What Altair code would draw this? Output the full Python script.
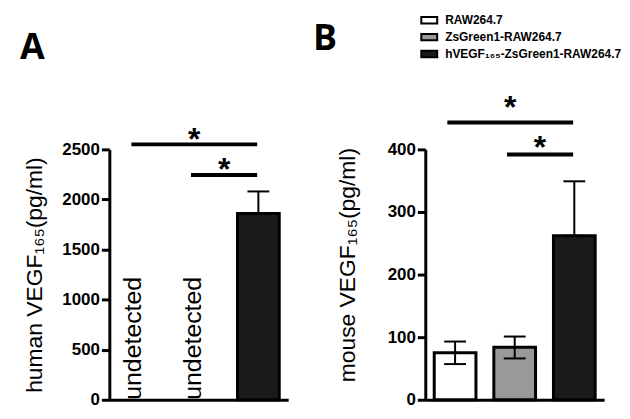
import altair as alt
import pandas as pd

FONT = "Liberation Sans"

groups = ["RAW264.7", "ZsGreen1-RAW264.7", "hVEGF₁₆₅-ZsGreen1-RAW264.7"]
fill_colors = ["#ffffff", "#999999", "#1a1a1a"]

# Panel A: human VEGF165 (pg/ml)
a_mean = [None, None, 1860]
a_err_low = [None, None, 1860]
a_err_high = [None, None, 2080]
a_note = ["undetected", "undetected", ""]
a_ticks = [0, 500, 1000, 1500, 2000, 2500]
a_sig_from = [0, 1]
a_sig_to = [2, 2]
a_sig_level = [2550, 2245]
a_star_level = [2655, 2350]

# Panel B: mouse VEGF165 (pg/ml)
b_mean = [75, 84, 262]
b_err_low = [57, 66, 262]
b_err_high = [93, 101, 349]
b_ticks = [0, 100, 200, 300, 400]
b_sig_from = [0, 1]
b_sig_to = [2, 2]
b_sig_level = [443, 392]
b_star_level = [476, 411]

W, H = 180, 252


def panel(mean, lo, hi, note, ticks, sig_from, sig_to, sig_level, star_level,
          ytitle, title_pad, title_shift, letter, letter_xy, legend):
    df = pd.DataFrame({"group": groups, "idx": [0, 1, 2], "mean": mean,
                       "lo": lo, "hi": hi, "note": note})
    sig = pd.DataFrame({"a": sig_from, "b": sig_to, "level": sig_level,
                        "star": star_level})
    xs = alt.Scale(domain=[0, 3], nice=False, zero=False)
    ys = alt.Scale(domain=[ticks[0], ticks[-1]], nice=False)
    xaxis = alt.Axis(labels=False, ticks=False, grid=False, title=None,
                     domainWidth=3, domainColor="black")
    yaxis = alt.Axis(values=ticks, format="d", grid=False, title=ytitle, domainWidth=3,
                     domainColor="black", tickWidth=3, tickColor="black",
                     tickSize=8, labelPadding=2, labelFont=FONT,
                     labelFontSize=17, labelFontWeight="bold",
                     labelColor="black", titleFont=FONT, titleFontSize=23,
                     titleFontWeight="normal", titleColor="black",
                     titlePadding=title_pad, titleY=H / 2 + title_shift)
    base = alt.Chart(df).transform_calculate(
        x0="datum.idx + 0.15", x1="datum.idx + 0.85", xc="datum.idx + 0.5",
        c0="datum.idx + 0.317", c1="datum.idx + 0.683", zero="0")
    valid = base.transform_filter("isValid(datum.mean)")
    if legend:
        color = alt.Color("group:N", scale=alt.Scale(domain=groups, range=fill_colors),
                          legend=alt.Legend(
                              orient="none", legendX=313, legendY=-139,
                              title=None, symbolType="M-1,-0.4H1V0.4H-1Z",
                              symbolSize=256, symbolStrokeColor="black",
                              symbolStrokeWidth=2, labelFont=FONT,
                              labelFontSize=12, labelFontWeight="bold",
                              labelColor="black", labelLimit=0, rowPadding=0,
                              labelOffset=7))
        bars = valid.mark_bar(stroke="black", strokeWidth=3).encode(
            x=alt.X("x0:Q", scale=xs, axis=xaxis), x2="x1:Q",
            y=alt.Y("mean:Q", scale=ys, axis=yaxis), y2="zero:Q", fill=color)
    else:
        bars = valid.mark_bar(stroke="black", strokeWidth=3, fill="#1a1a1a").encode(
            x=alt.X("x0:Q", scale=xs, axis=xaxis), x2="x1:Q",
            y=alt.Y("mean:Q", scale=ys, axis=yaxis), y2="zero:Q")
    whisk = valid.mark_rule(strokeWidth=2, color="black").encode(
        x="xc:Q", y="lo:Q", y2="hi:Q")
    cap_hi = valid.mark_rule(strokeWidth=2, color="black").encode(
        x="c0:Q", x2="c1:Q", y="hi:Q")
    cap_lo = valid.mark_rule(strokeWidth=2, color="black").encode(
        x="c0:Q", x2="c1:Q", y="lo:Q")
    notes = base.mark_text(angle=270, align="left", baseline="middle", dy=-6,
                           font=FONT, fontSize=25, color="black").encode(
        x="xc:Q", y="zero:Q", text="note:N")
    sbase = alt.Chart(sig).transform_calculate(
        xa="datum.a + 0.37", xb="datum.b + 0.48",
        xm="(datum.a + 0.37 + datum.b + 0.48) / 2")
    sig_rules = sbase.mark_rule(strokeWidth=4, color="black").encode(
        x="xa:Q", x2="xb:Q", y="level:Q")
    stars = sbase.mark_text(text="*", font=FONT, fontSize=32, fontWeight="bold",
                            baseline="alphabetic", dy=16, color="black").encode(
        x="xm:Q", y="star:Q")
    lab = alt.Chart(pd.DataFrame({"t": [letter]})).mark_text(
        align="left", baseline="alphabetic", font="Open Sans", fontSize=36,
        fontWeight="bold", color="black").encode(
        text="t:N", x=alt.value(letter_xy[0]), y=alt.value(letter_xy[1]))
    return alt.layer(bars, whisk, cap_hi, cap_lo, notes, sig_rules, stars, lab).properties(
        width=W, height=H)


pa = panel(a_mean, a_err_low, a_err_high, a_note, a_ticks, a_sig_from, a_sig_to,
           a_sig_level, a_star_level, "human VEGF₁₆₅(pg/ml)", 15, 0, "A", (-90, -91), False)
pb = panel(b_mean, b_err_low, b_err_high, ["", "", ""], b_ticks, b_sig_from, b_sig_to,
           b_sig_level, b_star_level, "mouse VEGF₁₆₅(pg/ml)", 28, -10, "B", (-113, -100), True)

chart = alt.hconcat(pa, pb, spacing=138, bounds="flush").resolve_scale(
    color="independent").properties(
    padding={"left": 12, "top": 2, "right": 0, "bottom": 0}
).configure_view(stroke=None)

chart.save("out.html", embed_options={"renderer": "svg", "actions": False})
